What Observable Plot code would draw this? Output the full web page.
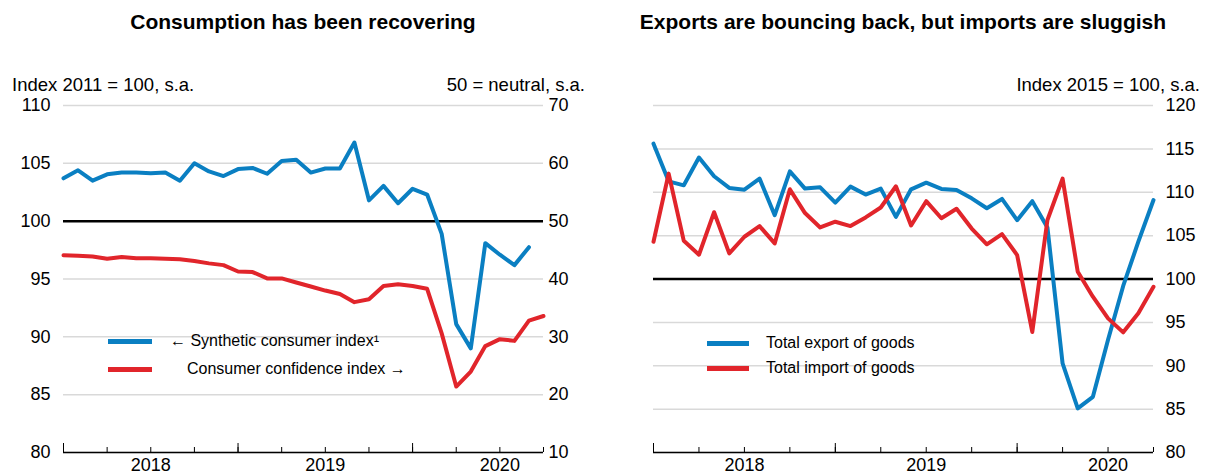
<!DOCTYPE html>
<html><head><meta charset="utf-8">
<script src="https://cdn.jsdelivr.net/npm/d3@7"></script>
<script src="https://cdn.jsdelivr.net/npm/@observablehq/plot@0.6"></script>
<style>
body{margin:0;background:#fff;font-family:"Liberation Sans",Arial,sans-serif;}
#wrap{position:relative;width:1206px;height:475px;overflow:hidden;background:#fff;}
.abs{position:absolute;white-space:nowrap;color:#000;}
.title{font-weight:bold;font-size:21px;line-height:26px;text-align:center;}
.sub{font-size:18.5px;line-height:22px;}
.leg{font-size:16px;line-height:20px;}
.sw{position:absolute;height:5px;}
</style></head>
<body><div id="wrap">
<div class="abs title" style="left:43px;width:520px;top:9px;">Consumption has been recovering</div>
<div class="abs title" style="left:613px;width:580px;top:9px;">Exports are bouncing back, but imports are sluggish</div>
<div class="abs sub" style="left:12px;top:74px;">Index 2011 = 100, s.a.</div>
<div class="abs sub" style="right:621px;top:74px;">50 = neutral, s.a.</div>
<div class="abs sub" style="right:6px;top:74px;">Index 2015 = 100, s.a.</div>
<div id="left" class="abs" style="left:0;top:95px;"></div>
<div id="right" class="abs" style="left:600px;top:95px;"></div>
<div id="legL"></div>
<div id="legR"></div>
</div>
<script>
// ---- data (monthly, index 0 = Jan 2018) ----
const yearLabels = ["2018", "2019", "2020"];
const yearLabelPos = [6, 18, 30];
const yearTicks = [0, 12, 24];
const quarterTicks = [0, 3, 6, 9, 12, 15, 18, 21, 24, 27, 30, 33];
const leftTicks = [80, 85, 90, 95, 100, 105, 110];
const rightTicks = [80, 85, 90, 95, 100, 105, 110, 115, 120];

const syntheticIndex = [103.7, 104.4, 103.5, 104.05, 104.2, 104.2, 104.15, 104.2, 103.5, 105.0, 104.3, 103.9,
  104.5, 104.6, 104.1, 105.2, 105.3, 104.2, 104.55, 104.55, 106.8, 101.8, 103.05, 101.55,
  102.8, 102.3, 98.9, 91.1, 89.0, 98.1, 97.1, 96.2, 97.75];
const confidenceIndex = [44.1, 44.0, 43.9, 43.5, 43.8, 43.6, 43.6, 43.5, 43.4, 43.1, 42.7, 42.4,
  41.3, 41.2, 40.1, 40.1, 39.4, 38.7, 38.0, 37.4, 36.0, 36.5, 38.8, 39.1,
  38.8, 38.3, 30.6, 21.4, 24.0, 28.4, 29.6, 29.3, 32.8, 33.6];
const exportsGoods = [115.6, 111.26, 110.8, 114.0, 111.84, 110.5, 110.3, 111.57, 107.36, 112.4, 110.42, 110.57,
  108.8, 110.65, 109.73, 110.42, 107.16, 110.34, 111.1, 110.38, 110.27, 109.3, 108.16, 109.23,
  106.78, 108.97, 105.94, 90.27, 85.08, 86.42, 93.0, 99.2, 104.3, 109.1];
const importsGoods = [104.3, 112.15, 104.4, 102.8, 107.7, 102.95, 104.87, 106.1, 104.1, 110.34, 107.6, 105.94,
  106.6, 106.1, 107.1, 108.24, 110.69, 106.17, 108.97, 107.0, 108.1, 105.82, 104.0, 105.17,
  102.76, 93.9, 106.8, 111.57, 100.84, 97.96, 95.46, 93.85, 96.04, 99.1];

const legendLeft = ["\u2190 Synthetic consumer index\u00b9", "Consumer confidence index \u2192"];
const legendRight = ["Total export of goods", "Total import of goods"];

const BLUE = "#0a7fc2", RED = "#e1252b", GRID = "#d9d9d9";
const H = 380, MT = 10, MB = 23, PH = H - MT - MB;
const font = '"Liberation Sans", Arial, sans-serif';

function xAxisMarks() {
  return [
    Plot.ruleX(quarterTicks, {x: d => d, stroke: "#000", strokeWidth: 1, insetTop: PH - 5}),
    Plot.ruleX(yearTicks, {x: d => d, stroke: "#000", strokeWidth: 1, insetTop: PH - 9}),
    Plot.axisX({ticks: yearLabelPos, tickFormat: d => yearLabels[yearLabelPos.indexOf(d)], tickSize: 0, tickPadding: 6, label: null, fontSize: 18})
  ];
}

const left = Plot.plot({
  width: 600, height: H, marginLeft: 63, marginRight: 57, marginTop: MT, marginBottom: MB,
  style: {fontFamily: font, fontSize: "18px", color: "#000", background: "transparent", overflow: "visible"},
  x: {domain: [0, 33]},
  y: {domain: [80, 110]},
  marks: [
    Plot.gridY(leftTicks, {stroke: GRID, strokeOpacity: 1, strokeWidth: 1.5}),
    Plot.ruleY([100], {stroke: "#000", strokeWidth: 2.5}),
    Plot.lineY(confidenceIndex, {x: (d, i) => i, y: d => 100 + (d - 50) / 2, stroke: RED, strokeWidth: 4}),
    Plot.lineY(syntheticIndex, {x: (d, i) => i, y: d => d, stroke: BLUE, strokeWidth: 4}),
    Plot.ruleY([80], {stroke: "#000", strokeWidth: 1.5}),
    ...xAxisMarks(),
    Plot.axisY({anchor: "left", ticks: leftTicks, tickSize: 0, tickPadding: 13, label: null, fontSize: 18}),
    Plot.axisY({anchor: "right", ticks: leftTicks, tickFormat: d => (d - 100) * 2 + 50, tickSize: 0, tickPadding: 5, label: null, fontSize: 18})
  ]
});
document.getElementById("left").appendChild(left);

const right = Plot.plot({
  width: 606, height: H, marginLeft: 53, marginRight: 53, marginTop: MT, marginBottom: MB,
  style: {fontFamily: font, fontSize: "18px", color: "#000", background: "transparent", overflow: "visible"},
  x: {domain: [0, 33]},
  y: {domain: [80, 120]},
  marks: [
    Plot.gridY(rightTicks, {stroke: GRID, strokeOpacity: 1, strokeWidth: 1.5}),
    Plot.ruleY([100], {stroke: "#000", strokeWidth: 2.5}),
    Plot.lineY(exportsGoods, {x: (d, i) => i, y: d => d, stroke: BLUE, strokeWidth: 4}),
    Plot.lineY(importsGoods, {x: (d, i) => i, y: d => d, stroke: RED, strokeWidth: 4}),
    Plot.ruleY([80], {stroke: "#000", strokeWidth: 1.5}),
    ...xAxisMarks(),
    Plot.axisY({anchor: "right", ticks: rightTicks, tickSize: 0, tickPadding: 12, label: null, fontSize: 18})
  ]
});
document.getElementById("right").appendChild(right);

function legend(el, items, colors, swX, swW, ys, textX) {
  const host = document.getElementById(el);
  items.forEach((t, i) => {
    const s = document.createElement("div");
    s.className = "sw";
    s.style.cssText = `left:${swX}px;width:${swW}px;top:${ys[i] - 2.5}px;background:${colors[i]};`;
    host.appendChild(s);
    const d = document.createElement("div");
    d.className = "abs leg";
    d.style.cssText = `left:${textX[i]}px;top:${ys[i] - 10}px;`;
    d.textContent = t;
    host.appendChild(d);
  });
}
legend("legL", legendLeft, [BLUE, RED], 108, 44, [341, 369], [170, 187]);
legend("legR", legendRight, [BLUE, RED], 707, 42, [343, 368], [766, 766]);
</script>
</body></html>
